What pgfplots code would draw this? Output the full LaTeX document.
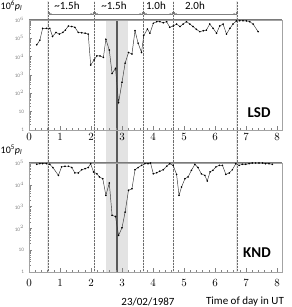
\documentclass[border=0pt]{standalone}
\usepackage{pgfplots}
\pgfplotsset{compat=1.18}
\usepackage{fontspec}
\setmainfont{Carlito}
\usetikzlibrary{arrows.meta}
\definecolor{axgray}{HTML}{A3A3A3}
\definecolor{topgray}{HTML}{7A7A7A}
\pgfplotsset{
  myax/.style={
    scale only axis, width=253pt, anchor=south west,
    xmin=0, xmax=8.161, ymin=1,
    axis line style={axgray, line width=0.55pt},
    tick style={axgray!80!black, line width=0.4pt},
    tick align=inside, xtick pos=bottom, ytick pos=left,
    xtick={0,1,2,3,4,5,6,7,8}, minor x tick num=4,
    major tick length=3.5pt, minor tick length=2pt,
    xticklabel style={font=\fontsize{10.5}{12}\selectfont},
    yticklabel style={font=\fontsize{5.2}{6}\selectfont, text=gray, xshift=-1.5pt},
    clip=false,
  },
  myplot/.style={black!80, line width=0.45pt, mark=*, mark size=0.55pt, mark options={black}},
}
\begin{document}
\begin{tikzpicture}
\useasboundingbox (0pt,0pt) rectangle (291pt,307pt);
% shaded window and lines (behind data)
\fill[gray!22] (105.9pt,35pt) rectangle (127.9pt,287pt);
\draw[gray!22, line width=1.5pt] (47.9pt,35pt) -- (47.9pt,306pt);
\foreach \xx in {47.9,94.1,143.1,173.2,237.0}{
  \draw[gray!18, line width=1.2pt] (\xx pt,35pt) -- (\xx pt,306pt);
  \draw[gray!85!black, line width=0.45pt, densely dotted] (\xx pt,35pt) -- (\xx pt,306pt);
}
\draw[gray!70!black, line width=1.1pt] (117.0pt,35pt) -- (117.0pt,287pt);
% duration arrows
\draw[gray, line width=0.6pt, {Bar[width=3pt]Stealth[length=2.5pt]}-{Stealth[length=2.5pt]Bar[width=3pt]}] (48.6pt,293pt) -- (93.4pt,293pt);
\draw[gray, line width=0.6pt, {Bar[width=3pt]Stealth[length=2.5pt]}-{Stealth[length=2.5pt]Bar[width=3pt]}] (94.8pt,293pt) -- (142.4pt,293pt);
\draw[gray, line width=0.6pt, {Bar[width=3pt]Stealth[length=2.5pt]}-{Stealth[length=2.5pt]Bar[width=3pt]}] (143.8pt,293pt) -- (172.5pt,293pt);
\draw[gray, line width=0.6pt, {Bar[width=3pt]Stealth[length=2.5pt]}-{Stealth[length=2.5pt]Bar[width=3pt]}] (173.9pt,293pt) -- (236.3pt,293pt);
\node[font=\fontsize{11}{12}\selectfont] at (67pt,301.5pt) {\textasciitilde 1.5h};
\node[font=\fontsize{11}{12}\selectfont] at (114pt,301.5pt) {\textasciitilde 1.5h};
\node[font=\fontsize{11}{12}\selectfont] at (156pt,301.5pt) {1.0h};
\node[font=\fontsize{11}{12}\selectfont] at (195pt,301.5pt) {2.0h};
% top axis: LSD
\begin{axis}[ymode=log, myax, at={(29pt,177pt)}, height=110pt, ymax=1e6,
  ytick={1,10,100,1000,10000,100000,1000000},
  yticklabels={1,10,10$^2$,10$^3$,10$^4$,10$^5$,10$^6$}]
\addplot[myplot] coordinates {
(0.25,4.4e4)(0.35,7.9e4)(0.44,3.5e5)(0.56,3.5e5)(0.67,3.5e5)(0.76,1.26e5)
(0.87,2.1e5)(0.98,1.7e5)(1.09,2.1e5)(1.17,2.8e5)(1.27,4.7e5)(1.38,4.4e5)
(1.48,4.0e5)(1.59,2.1e5)(1.70,2.0e5)(1.81,1.9e5)(1.91,1.7e5)(1.99,3.5e3)
(2.10,6.6e3)(2.19,1.1e4)(2.29,1.1e4)(2.40,9.1e3)(2.48,8.9e4)(2.59,2.3e4)
(2.68,1.2e3)(2.79,2.3e3)(2.89,31)(3.00,400)(3.10,4.4e3)(3.21,1.7e4)
(3.32,1.4e4)(3.42,2.6e5)(3.52,5.4e4)(3.63,1.7e4)(3.70,1.4e5)(3.82,3.2e5)
(3.90,1.9e5)(4.01,6.6e5)(4.12,8.1e5)(4.22,8.1e5)(4.33,7.1e5)(4.44,8.1e5)
(4.54,4.0e5)(4.65,4.7e5)(4.76,6.0e5)(4.87,4.4e5)(4.97,6.0e5)(5.08,8.1e5)
(5.19,6.0e5)(5.29,4.4e5)(5.40,3.1e5)(5.51,2.3e5)(5.62,2.6e5)(5.72,2.8e5)
(5.83,6.0e5)(5.94,3.5e5)(6.05,1.9e5)(6.15,4.7e5)(6.26,6.0e5)(6.37,1.7e5)
(6.48,3.5e5)(6.58,6.0e5)(6.69,8.9e5)(6.80,9.1e5)(6.90,9.1e5)(7.01,8.9e5)
(7.12,8.1e5)(7.23,6.0e5)(7.39,2.3e5)
};
\draw[topgray, line width=1pt] (rel axis cs:0,1) -- (rel axis cs:1,1);
\end{axis}
% bottom axis: KND
\begin{axis}[ymode=log, myax, at={(29pt,35pt)}, height=109pt, ymax=1e5,
  ytick={1,10,100,1000,10000,100000},
  yticklabels={1,10,10$^2$,10$^3$,10$^4$,10$^5$},
  xticklabel style={yshift=-4pt}]
\addplot[myplot] coordinates {
(0.25,8.7e4)(0.35,9.3e4)(0.44,9.3e4)(0.56,9.3e4)(0.67,8.7e4)(0.77,6.2e4)
(0.95,2.7e4)(1.05,6.6e4)(1.16,7.1e4)(1.27,7.1e4)(1.38,6.2e4)(1.48,3.5e4)
(1.59,3.5e4)(1.70,4.9e4)(1.81,5.5e4)(1.91,6.2e4)(1.99,9.3e4)(2.08,3.9e4)
(2.19,3.2e4)(2.27,2.3e4)(2.38,1.9e4)(2.48,3.3e3)(2.59,1.2e4)(2.68,400)
(2.79,350)(2.89,48)(3.00,107)(3.10,560)(3.21,5.6e3)(3.32,6.6e3)
(3.42,4.9e4)(3.52,6.2e4)(3.63,7.8e4)(3.74,9.3e4)(3.84,9.3e4)(3.92,1.0e5)
(4.01,3.2e4)(4.12,3.6e4)(4.22,4.2e4)(4.33,4.9e4)(4.44,7.1e4)(4.54,9.3e4)
(4.65,7.8e4)(4.76,3.0e4)(4.84,3.3e3)(4.92,7.9e3)(5.03,1.9e4)(5.13,2.3e4)
(5.24,4.6e4)(5.35,8.7e4)(5.45,6.2e4)(5.56,3.2e4)(5.67,2.7e4)(5.75,1.5e4)
(5.84,3.9e4)(5.93,4.6e4)(6.03,6.6e4)(6.14,7.8e4)(6.24,7.8e4)(6.35,3.0e4)
(6.46,3.5e4)(6.56,4.9e4)(6.67,9.3e4)(6.78,7.8e4)(6.88,8.7e4)(6.99,8.7e4)
(7.10,9.3e4)(7.20,1.0e5)(7.31,1.0e5)(7.42,1.0e5)(7.53,1.0e5)(7.63,9.3e4)
(7.74,9.3e4)(7.85,8.7e4)
};
\draw[topgray, line width=1pt] (rel axis cs:0,1) -- (rel axis cs:1,1);
\end{axis}
% labels
\node[font=\fontsize{10}{12}\selectfont, anchor=west, inner sep=0pt] at (0.5pt,301pt) {10\textsuperscript{6}\textit{p}\textsubscript{\textit{l}}};
\node[font=\fontsize{10}{12}\selectfont, anchor=west, inner sep=0pt] at (0.5pt,157pt) {10\textsuperscript{5}\textit{p}\textsubscript{\textit{l}}};
\node[font=\bfseries\fontsize{15}{16}\selectfont] at (259pt,194pt) {LSD};
\node[font=\bfseries\fontsize{15}{16}\selectfont] at (257pt,54pt) {KND};
\node[font=\fontsize{11}{12}\selectfont] at (148pt,5.5pt) {23/02/1987};
\node[font=\fontsize{11}{12}\selectfont] at (245pt,5.5pt) {Time of day in UT};
\end{tikzpicture}
\end{document}
